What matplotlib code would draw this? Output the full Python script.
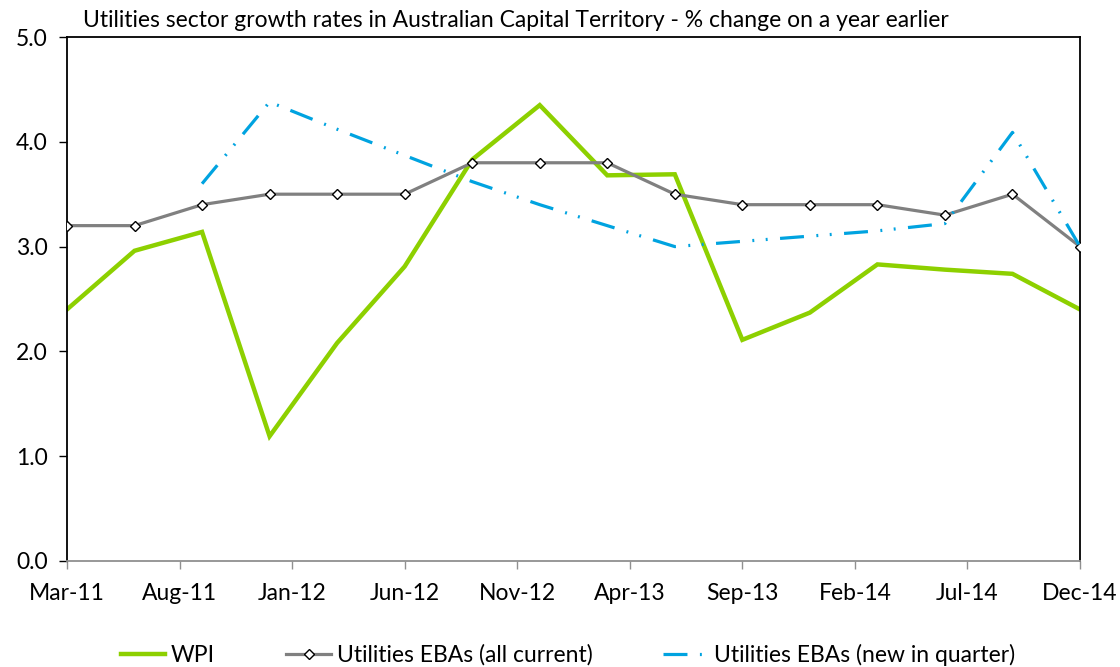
import matplotlib
matplotlib.use("Agg")
from matplotlib import pyplot as plt
import numpy as np

# quarterly observations, Mar-11 .. Dec-14
quarters = ["Mar-11", "Jun-11", "Sep-11", "Dec-11", "Mar-12", "Jun-12", "Sep-12", "Dec-12",
            "Mar-13", "Jun-13", "Sep-13", "Dec-13", "Mar-14", "Jun-14", "Sep-14", "Dec-14"]
wpi = [2.40, 2.96, 3.14, 1.19, 2.08, 2.81, 3.83, 4.35,
       3.68, 3.69, 2.11, 2.37, 2.83, 2.78, 2.74, 2.40]
eba_all = [3.2, 3.2, 3.4, 3.5, 3.5, 3.5, 3.8, 3.8,
           3.8, 3.5, 3.4, 3.4, 3.4, 3.3, 3.5, 3.0]
eba_new = [np.nan, np.nan, 3.6, 4.38, 4.12, 3.87, 3.62, 3.40,
           3.20, 3.00, 3.05, 3.10, 3.15, 3.22, 4.09, 3.00]
tick_labels = ["Mar-11", "Aug-11", "Jan-12", "Jun-12", "Nov-12",
               "Apr-13", "Sep-13", "Feb-14", "Jul-14", "Dec-14"]

plt.rcParams['font.family'] = ['Lato', 'DejaVu Sans']
FS = 16.5

months = np.arange(len(quarters)) * 3  # months since Mar-11
tick_pos = np.arange(len(tick_labels)) * 5

fig = plt.figure(figsize=(11.2, 6.67), dpi=100)
ax = fig.add_axes([0.0598, 0.159, 0.9045, 0.7855])

ax.plot(months, wpi, color="#8DD000", lw=3.2, label="WPI", zorder=2,
        solid_joinstyle="miter")
ax.plot(months, eba_all, color="#808080", lw=2.3, marker="D", markersize=5.5,
        markerfacecolor="white", markeredgecolor="black", markeredgewidth=1.0,
        label="Utilities EBAs (all current)", zorder=3)
ax.plot(months, eba_new, color="#00A3E0", lw=2.3, dashes=(7.5, 3.9, 0.6, 3.6, 0.6, 3.9),
        label="Utilities EBAs (new in quarter)", zorder=4)

ax.set_xlim(0, 45)
ax.set_ylim(0, 5)
ax.set_yticks(np.arange(0, 5.01, 1.0))
ax.set_yticklabels([f"{v:.1f}" for v in np.arange(0, 5.01, 1.0)])
ax.set_xticks(tick_pos)
ax.set_xticklabels(tick_labels)

for s in ["left", "top", "right"]:
    ax.spines[s].set_color("black")
    ax.spines[s].set_linewidth(1.3)
ax.spines["bottom"].set_color("#909090")
ax.spines["bottom"].set_linewidth(1.3)

ax.tick_params(axis="y", direction="out", length=6, width=1.0, labelsize=FS, pad=8)
ax.tick_params(axis="x", direction="out", length=6, width=1.0, color="#909090",
               labelsize=FS, pad=10)

ax.text(0.016, 1.012, "Utilities sector growth rates in Australian Capital Territory - % change on a year earlier",
        transform=ax.transAxes, fontsize=FS, ha="left", va="bottom")

fig.legend(loc="center", bbox_to_anchor=(0.507, 0.018), ncol=3, frameon=False,
           fontsize=FS, handlelength=1.95, handletextpad=0.25, columnspacing=3.1,
           borderpad=0)

fig.savefig("out.png", dpi=100)
